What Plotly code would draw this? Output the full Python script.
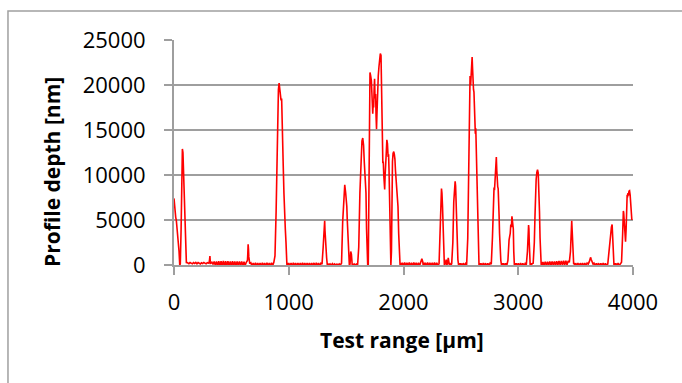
import plotly.graph_objects as go

# Surface profile: scan position along the test range (µm) and profile depth (nm)
x_um = (
    [0, 5, 10, 15, 20, 25, 32, 38, 44, 50, 55, 62, 68, 73, 78, 82, 88, 94, 100, 104, 108, 112]
    + [120, 130, 140, 150, 160, 170, 180, 190, 200, 210, 220, 230, 240, 250, 260, 270, 280, 290, 300]
    + [305, 310, 313, 316, 320]
    + [330, 340, 350, 360, 370, 380, 390, 400, 410, 420, 430, 440, 450, 460, 470, 480, 490, 500, 510, 520,
       530, 540, 550, 560, 570, 580, 590, 600, 610, 620, 630, 640]
    + [643, 646, 649, 652, 656, 660]
    + [670, 680, 690, 700, 710, 720, 730, 740, 750, 760, 770, 780, 790, 800, 810, 820, 830, 840, 850, 860,
       870, 880, 890]
    + [896, 900, 905, 910, 916, 922, 928, 933, 938, 942, 946, 952, 958, 964, 970, 976, 980, 984, 988, 992]
    + [1000, 1010, 1020, 1030, 1040, 1050, 1060, 1070, 1080, 1090, 1100, 1110, 1120, 1130, 1140, 1150,
       1160, 1170, 1180, 1190, 1200, 1210, 1220, 1230, 1240, 1250, 1260, 1270, 1280, 1290, 1300, 1310]
    + [1313, 1316, 1319, 1324, 1330, 1336, 1342, 1348, 1360, 1370, 1380, 1390, 1400, 1410, 1420, 1430,
       1440, 1450, 1460, 1470, 1478]
    + [1482, 1488, 1496, 1502, 1506, 1510, 1516, 1522, 1528, 1534, 1540, 1546, 1550, 1553, 1556, 1560,
       1570, 1580, 1590, 1600, 1610, 1620]
    + [1626, 1632, 1638, 1645, 1652, 1658, 1663, 1668, 1673, 1678, 1682, 1688, 1693, 1698, 1704]
    + [1708, 1714, 1720, 1724, 1728, 1732, 1736, 1740, 1744, 1748,
       1752, 1757, 1761, 1765, 1768, 1771, 1775, 1780, 1786, 1792,
       1798, 1804, 1808, 1812, 1816, 1820, 1824, 1828, 1832, 1836,
       1840, 1845, 1850, 1855, 1860, 1866, 1870, 1874, 1878, 1882,
       1886, 1890, 1895, 1898, 1904, 1909, 1915, 1920, 1925, 1930,
       1935, 1940, 1946, 1952, 1958, 1964, 1970, 1976, 1980]
    + [1990, 2000, 2010, 2020, 2030, 2040, 2050, 2060, 2070, 2080, 2090, 2100, 2110, 2120, 2130, 2140,
       2150, 2160, 2168, 2172, 2176, 2180, 2190, 2200, 2210, 2220, 2230, 2240, 2250, 2260, 2270, 2280,
       2290, 2300, 2310, 2320, 2328]
    + [2331, 2335, 2340, 2344, 2348, 2352, 2356, 2360, 2366, 2372, 2378, 2384, 2390, 2396, 2400, 2404,
       2410, 2420, 2430, 2438]
    + [2442, 2446, 2450, 2454, 2458, 2463, 2468, 2474, 2480, 2486, 2492, 2500, 2510, 2520, 2530, 2540,
       2550, 2560, 2570]
    + [2575, 2580, 2585, 2590, 2594, 2598, 2602, 2606, 2610, 2614, 2618, 2622, 2626, 2630, 2634, 2638,
       2642, 2646, 2650, 2654, 2658, 2662, 2666]
    + [2675, 2685, 2695, 2705, 2715, 2725, 2735, 2745, 2755, 2765, 2775, 2784]
    + [2789, 2793, 2797, 2801, 2805, 2809, 2813, 2817, 2821, 2825, 2829, 2833, 2837, 2842, 2848, 2854,
       2860, 2864, 2872, 2880, 2890, 2900, 2910, 2920]
    + [2926, 2930, 2935, 2940, 2945, 2950, 2957, 2961, 2966, 2970, 2974, 2982, 2990, 3000, 3010, 3020,
       3030, 3040, 3050, 3060, 3070, 3080, 3088]
    + [3090, 3093, 3096, 3100, 3104, 3108, 3113, 3120, 3130, 3140, 3146]
    + [3150, 3156, 3162, 3168, 3174, 3180, 3185, 3190, 3195, 3200, 3204, 3208]
    + [3215, 3225, 3235, 3245, 3255, 3265, 3275, 3285, 3295, 3305, 3315, 3325, 3335, 3345, 3355, 3365,
       3375, 3385, 3395, 3405, 3415, 3425, 3435, 3445, 3455, 3462]
    + [3466, 3470, 3475, 3479, 3483, 3487, 3492, 3500, 3510, 3520, 3530, 3540, 3550, 3560, 3570, 3580,
       3590, 3600, 3610, 3620, 3630, 3636, 3641, 3646, 3652, 3660, 3670, 3680, 3690, 3700, 3710, 3720,
       3730, 3740, 3750, 3760, 3770, 3780, 3790, 3798]
    + [3802, 3806, 3812, 3818, 3822, 3826, 3830, 3834, 3838, 3842, 3850, 3860, 3870, 3880, 3890, 3900,
       3910, 3916]
    + [3919, 3922, 3926, 3930, 3935, 3940, 3945, 3949, 3952, 3956, 3960, 3965, 3970, 3975, 3980, 3985,
       3990, 3995, 4000]
)

depth_nm = (
    [7400, 6200, 5500, 5300, 5000, 4300, 3800, 3000, 1500, 0, 100, 4000, 9500, 12900, 12500, 11000, 8000,
     5000, 2800, 800, 200, 300]
    + [250, 150, 280, 180, 130, 260, 170, 290, 140, 270, 190, 120, 250, 160, 280, 190, 130, 260, 170]
    + [200, 600, 1000, 400, 200]
    + [300, 60, 380, -40, 400, -80, 420, -100, 430, -100, 440, -120, 420, -100, 410, -90, 400, -100,
       420, -80, 390, -80, 380, -60, 400, -50, 380, -80, 360, -40, 300, 500]
    + [1200, 2300, 1800, 900, 400, 150]
    + [250, -80, 220, -100, 240, -90, 230, -120, 220, -100, 240, -80, 230, -110, 250, -90, 220, -100,
       240, -80, 300]
    + [1000, 6000, 12000, 16000, 18500, 19500, 20200, 19500, 18600, 18300, 18500, 17000, 14000, 11000,
       8000, 5000, 4000, 2500, 800, 0]
    + [250, -100, 230, -80, 220, -120, 240, -60, 220, -100, 230, -90, 210, -100, 240, -70,
       220, -110, 230, -80, 220, -100, 210, -70, 230, -110, 240, -80, 220, -90, 200, 100]
    + [2000, 3800, 4900, 3800, 2600, 2400, 800, 0, 150, 0, 120, -20, 150, 0, 130, -30,
       100, -10, 120, 0, 200]
    + [4800, 7000, 8200, 8900, 8000, 7200, 6500, 5000, 2500, 500, 0, 100, 1500, 1200, 200, 0,
       100, -40, 120, 0, 100, -30]
    + [2000, 8000, 10000, 12000, 13800, 14100, 13300, 11500, 10500, 10000, 8000, 4000, 500, 0, 0]
    + [6000, 15000, 21400, 21000, 20500, 19000, 17000, 16800, 18000, 17500,
       19500, 20700, 18500, 19000, 16500, 15100, 16500, 18000, 19500, 21000,
       22000, 22800, 23500, 23300, 21000, 17000, 13000, 11300, 11500, 10000,
       9500, 8400, 10000, 10800, 12500, 13900, 13500, 12000, 12300, 10500,
       8000, 4500, 500, 0, 1500, 8000, 11500, 12400, 12600, 12300,
       11800, 10500, 9500, 8200, 7800, 6500, 3500, 800, 0]
    + [250, -100, 260, -90, 280, -110, 240, -80, 270, -100, 250, -90, 280, -80, 260, -110,
       250, -90, 300, 700, 350, -100, 260, -100, 250, -90, 270, -110, 260, -80, 250, -100,
       270, -90, 260, -100, 150]
    + [3500, 6500, 8500, 8000, 6500, 4000, 1500, 200, 0, 0, 300, 600, 0, 200, 800, 300,
       -50, 220, -80, 150]
    + [2500, 7000, 8500, 9000, 9300, 8800, 7000, 4500, 2000, 600, 0, 200, -80, 180, -90, 200,
       -60, 170, 0]
    + [3000, 12000, 19500, 21000, 20000, 21500, 22000, 23100, 21800, 19800, 19500, 19200, 18000, 15000,
       14600, 15200, 12500, 10000, 7500, 5000, 2500, 500, 0]
    + [200, -80, 190, -90, 210, -70, 200, -90, 190, -60, 210, 100]
    + [3000, 8000, 8600, 8300, 9000, 10000, 11200, 12000, 10500, 9000, 8700, 8500, 7500, 5500, 3500, 1800,
       500, 0, 200, -80, 180, -90, 190, -50]
    + [500, 2800, 3200, 3500, 4500, 4200, 5400, 4800, 4000, 1500, 0, 200, -80, 190, -90, 180,
       -80, 200, -70, 190, -90, 170, 0]
    + [1500, 3800, 4450, 4000, 2500, 900, 0, 200, -80, 150, 200]
    + [2500, 5500, 8000, 9500, 10300, 10600, 10200, 8500, 6000, 3000, 800, 0]
    + [320, -60, 340, -40, 360, -50, 360, -30, 380, -40, 390, -20, 400, -30, 420, -20,
       440, 0, 460, -10, 480, 10, 470, 0, 460, 300]
    + [1500, 4000, 4900, 3800, 2000, 800, 100, 220, -80, 200, -60, 210, -90, 200, -50, 220,
       -80, 200, -60, 220, 100, 400, 850, 600, 350, 280, 100, 200, -80, 190, -60, 200,
       -90, 190, -50, 200, -80, 180, -60, 100]
    + [1500, 2500, 2800, 3500, 4200, 4500, 3600, 2000, 800, 0, 200, -80, 190, -70, 200, -60,
       180, 300]
    + [3500, 6000, 5800, 5200, 4500, 3500, 2600, 4000, 6500, 7800, 7500, 8000, 7700, 8200, 8250, 7800,
       7000, 6200, 5000]
)

x_ticks = [0, 1000, 2000, 3000, 4000]
y_ticks = [0, 5000, 10000, 15000, 20000, 25000]
x_title = "Test range [µm]"
y_title = "Profile depth [nm]"

FONT = "'Open Sans', 'Noto Sans', sans-serif"
GRID = "#9e9e9e"

fig = go.Figure(
    go.Scatter(
        x=x_um,
        y=depth_nm,
        mode="lines",
        line=dict(color="#ff0000", width=1.6),
        hoverinfo="x+y",
    )
)

fig.update_layout(
    width=682,
    height=383,
    margin=dict(l=174, r=49, t=40, b=118),
    paper_bgcolor="white",
    plot_bgcolor="white",
    showlegend=False,
    font=dict(family=FONT, color="black", size=22),
    shapes=[
        # chart-area frame
        dict(
            type="rect",
            xref="paper",
            yref="paper",
            x0=-0.3617,
            x1=1.3,
            y0=-0.8,
            y1=1.1289,
            line=dict(color="#a0a0a0", width=1.5),
            fillcolor="rgba(0,0,0,0)",
            layer="below",
        )
    ],
    annotations=[
        dict(
            text=f"<b>{x_title}</b>",
            xref="paper", yref="paper",
            x=0.4967, y=-0.3333,
            xanchor="center", yanchor="middle",
            showarrow=False,
            font=dict(size=21, family=FONT),
        ),
        dict(
            text=f"<b>{y_title}</b>",
            xref="paper", yref="paper",
            x=-0.2658, y=0.4133,
            xanchor="center", yanchor="middle",
            textangle=-90,
            showarrow=False,
            font=dict(size=21, family=FONT),
        ),
    ],
)

fig.update_xaxes(
    range=[0, 4000],
    tickvals=x_ticks,
    ticktext=[str(v) for v in x_ticks],
    showgrid=False,
    zeroline=False,
    showline=True,
    linecolor=GRID,
    linewidth=2,
    ticks="outside",
    ticklen=8,
    tickwidth=2,
    tickcolor=GRID,
    tickfont=dict(size=22, family=FONT),
    ticklabelstandoff=9,
)

fig.update_yaxes(
    range=[0, 25000],
    tickvals=y_ticks,
    ticktext=[str(v) for v in y_ticks],
    showgrid=True,
    gridcolor=GRID,
    gridwidth=2,
    zeroline=False,
    showline=True,
    linecolor=GRID,
    linewidth=2,
    ticks="outside",
    ticklen=8,
    tickwidth=2,
    tickcolor=GRID,
    tickfont=dict(size=22, family=FONT),
    ticklabelstandoff=14,
)

fig.write_html("out.html")
